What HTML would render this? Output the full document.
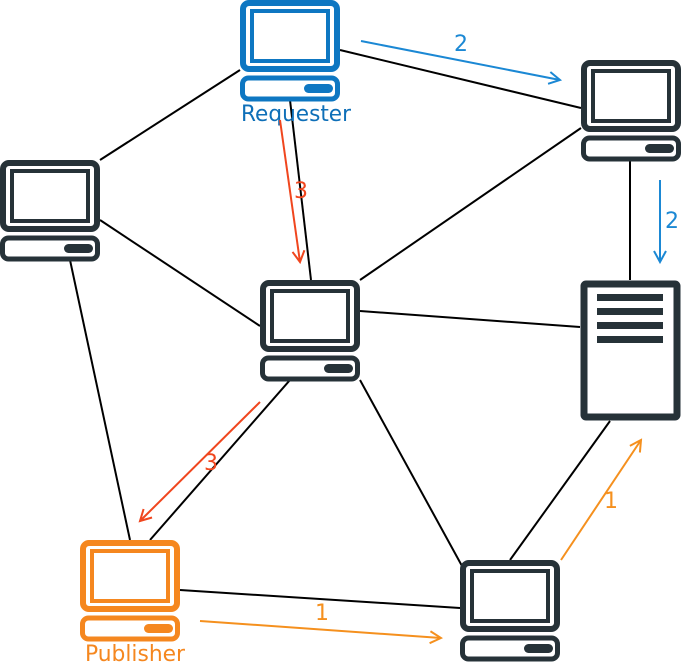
<!DOCTYPE html>
<html><head><meta charset="utf-8"><style>
html,body{margin:0;padding:0;background:#fff;width:681px;height:662px;overflow:hidden}
svg{display:block}
svg text{font-family:"DejaVu Sans","Liberation Sans",sans-serif !important;font-size:22px !important}
</style></head><body>
<svg width="681" height="662" viewBox="0 0 681 662" xmlns="http://www.w3.org/2000/svg">
<defs>
<g id="pc">
 <rect x="3" y="3" width="94" height="66" rx="6" fill="#fff" stroke="currentColor" stroke-width="6"/>
 <rect x="12" y="11" width="76" height="50" fill="#fff" stroke="currentColor" stroke-width="4"/>
 <rect x="2.5" y="78" width="95" height="21" rx="6" fill="#fff" stroke="currentColor" stroke-width="5"/>
 <rect x="64" y="84" width="29" height="9" rx="4.5" fill="currentColor"/>
</g>
<marker id="ab" markerWidth="14" markerHeight="14" refX="12" refY="7" orient="auto" markerUnits="userSpaceOnUse"><path d="M1,1 L12,7 L1,13" fill="none" stroke="#1b88d4" stroke-width="2"/></marker>
<marker id="ar" markerWidth="14" markerHeight="14" refX="12" refY="7" orient="auto" markerUnits="userSpaceOnUse"><path d="M1,1 L12,7 L1,13" fill="none" stroke="#f0461e" stroke-width="2"/></marker>
<marker id="ao" markerWidth="14" markerHeight="14" refX="12" refY="7" orient="auto" markerUnits="userSpaceOnUse"><path d="M1,1 L12,7 L1,13" fill="none" stroke="#f5901e" stroke-width="2"/></marker>
</defs>
<g stroke="#000" stroke-width="2">
<line x1="100" y1="160" x2="240" y2="70"/>
<line x1="340" y1="50" x2="581" y2="108"/>
<line x1="290" y1="100" x2="311" y2="280"/>
<line x1="100" y1="220" x2="260" y2="326"/>
<line x1="70" y1="260" x2="130" y2="540"/>
<line x1="581" y1="128" x2="360" y2="280"/>
<line x1="630" y1="160" x2="630" y2="280"/>
<line x1="360" y1="311" x2="580" y2="327"/>
<line x1="290" y1="380" x2="150" y2="540"/>
<line x1="360" y1="380" x2="462" y2="566"/>
<line x1="610" y1="421" x2="510" y2="560"/>
<line x1="180" y1="590" x2="460" y2="608"/>
</g>
<use href="#pc" x="240" y="0" style="color:#0e77c2"/>
<use href="#pc" x="581" y="60" style="color:#263238"/>
<use href="#pc" x="0" y="160" style="color:#263238"/>
<use href="#pc" x="260" y="280" style="color:#263238"/>
<use href="#pc" x="80" y="540" style="color:#f5871f"/>
<use href="#pc" x="460" y="560" style="color:#263238"/>
<rect x="584" y="284" width="93" height="133" fill="#fff" stroke="#263238" stroke-width="7" rx="2"/>
<g fill="#263238"><rect x="597" y="294" width="66" height="7"/><rect x="597" y="308" width="66" height="7"/><rect x="597" y="322" width="66" height="7"/><rect x="597" y="336" width="66" height="7"/></g>
<text x="296" y="121" fill="#0e6fb8" text-anchor="middle" textLength="110" lengthAdjust="spacingAndGlyphs">Requester</text>
<text x="135" y="661" fill="#f5871f" text-anchor="middle" textLength="100" lengthAdjust="spacingAndGlyphs">Publisher</text>
<line x1="361" y1="41" x2="560" y2="80" stroke="#1b88d4" stroke-width="2" marker-end="url(#ab)"/>
<text x="454" y="51" fill="#1b88d4">2</text>
<line x1="660" y1="180" x2="660" y2="262" stroke="#1b88d4" stroke-width="2" marker-end="url(#ab)"/>
<text x="665" y="228" fill="#1b88d4">2</text>
<line x1="280" y1="120" x2="300" y2="262" stroke="#f0461e" stroke-width="2" marker-end="url(#ar)"/>
<text x="294" y="198" fill="#f0461e">3</text>
<line x1="260" y1="402" x2="140" y2="521" stroke="#f0461e" stroke-width="2" marker-end="url(#ar)"/>
<text x="204" y="470" fill="#f0461e">3</text>
<line x1="200" y1="621" x2="441" y2="638" stroke="#f5901e" stroke-width="2" marker-end="url(#ao)"/>
<text x="315" y="620" fill="#f5901e">1</text>
<line x1="561" y1="560" x2="641" y2="440" stroke="#f5901e" stroke-width="2" marker-end="url(#ao)"/>
<text x="604" y="508" fill="#f5901e">1</text>
</svg>
</body></html>
